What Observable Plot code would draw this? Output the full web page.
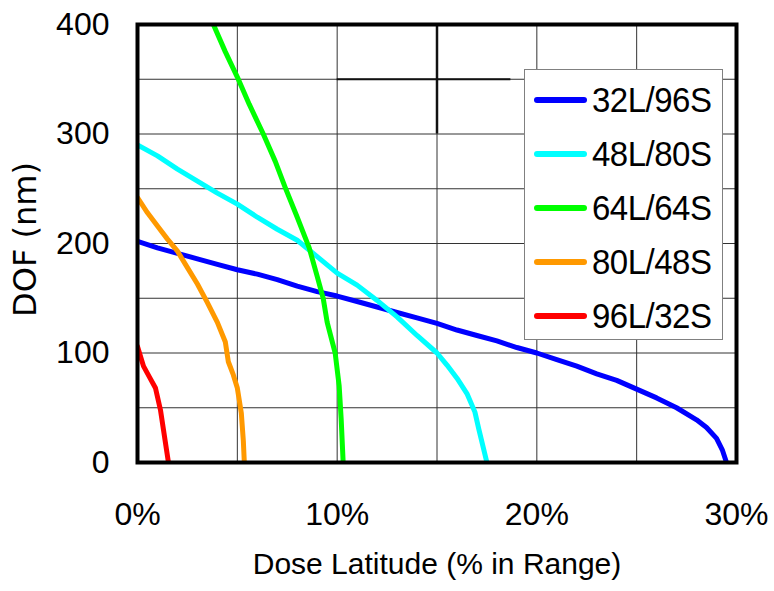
<!DOCTYPE html>
<html>
<head>
<meta charset="utf-8">
<script src="https://cdn.jsdelivr.net/npm/d3@7"></script>
<script src="https://cdn.jsdelivr.net/npm/@observablehq/plot@0.6"></script>
<style>
  html, body { margin: 0; padding: 0; background: #fff; }
  #wrap { position: relative; width: 774px; height: 591px; overflow: hidden; }
  #legend {
    position: absolute; left: 524px; top: 69px; width: 199px; height: 271px;
    background: #fff; border: 1px solid #808080; box-sizing: border-box;
    font-family: "Liberation Sans", Arial, sans-serif; font-size: 33px; color: #000;
    padding-top: 3px;
  }
  .row { position: relative; height: 54px; }
  .sw { position: absolute; left: 9px; top: 24px; width: 53px; height: 6px; border-radius: 3px; }
  .lb { position: absolute; left: 67px; top: 0; line-height: 54px; letter-spacing: -0.5px; transform: scaleY(1.08); }
</style>
</head>
<body>
<div id="wrap"></div>
<script>
// ---- data ----
const series = ["32L/96S", "48L/80S", "64L/64S", "80L/48S", "96L/32S"];
const colors = ["#0000ff", "#00ffff", "#00ff00", "#ff9900", "#ff0000"];

const s32x = [0, 1, 2, 3, 4, 5, 6, 7, 8, 9, 10, 11, 12, 13, 14, 15, 16, 17, 18, 19, 20, 21, 22, 23, 24, 25, 26, 27, 28, 28.5, 29, 29.3, 29.5];
const s32y = [202, 196, 191, 186, 181, 176, 172, 167, 161, 156, 152, 147, 142, 137, 132, 127, 121, 116, 111, 105, 100, 94, 88, 81, 75, 67, 59, 50, 39, 32, 22, 11, 0];

const s48x = [0, 1, 2, 3, 4, 5, 6, 7, 8, 9, 10, 11, 12, 13, 14, 15, 15.5, 16, 16.5, 16.9, 17.1, 17.3, 17.5];
const s48y = [290, 280, 268, 257, 246, 236, 224, 213, 203, 188, 173, 162, 148, 133, 116, 100, 89, 77, 63, 46, 30, 15, 0];

const s64x = [3.8, 4.4, 5, 5.6, 6.3, 6.9, 7.4, 8, 8.6, 9.0, 9.3, 9.5, 9.9, 10.1, 10.2, 10.3];
const s64y = [400, 375, 352, 327, 300, 275, 251, 224, 196, 170, 150, 128, 100, 70, 40, 0];

const s80x = [0, 0.5, 1, 1.5, 2, 2.5, 3, 3.5, 4, 4.4, 4.55, 4.8, 5, 5.2, 5.3, 5.35];
const s80y = [242, 228, 216, 204, 193, 178, 163, 146, 128, 110, 92, 80, 68, 45, 20, 0];

const s96x = [0, 0.3, 0.6, 0.9, 1.15, 1.3, 1.45, 1.55];
const s96y = [106, 88, 78, 68, 48, 30, 12, 0];

const xGrid = [0, 5, 10, 15, 20, 25, 30];
const yGrid = [0, 50, 100, 150, 200, 250, 300, 350, 400];
const xTicks = [0, 10, 20, 30];
const yTicks = [0, 100, 200, 300, 400];
const xTitle = "Dose Latitude (% in Range)";
const yTitle = "DOF (nm)";

// ---- build table ----
const xs = [s32x, s48x, s64x, s80x, s96x];
const ys = [s32y, s48y, s64y, s80y, s96y];
const rows = [];
series.forEach((s, i) => xs[i].forEach((x, j) => rows.push({series: s, x, y: ys[i][j]})));

const chart = Plot.plot({
  width: 774,
  height: 591,
  marginLeft: 137,
  marginRight: 38,
  marginTop: 24,
  marginBottom: 129,
  x: {domain: [0, 30]},
  y: {domain: [0, 400]},
  color: {domain: series, range: colors},
  style: {fontFamily: "'Liberation Sans', Arial, sans-serif", fontSize: "32px", color: "#000", background: "#fff"},
  marks: [
    Plot.ruleX(xGrid, {stroke: "#333", strokeWidth: 1}),
    Plot.ruleY(yGrid, {stroke: "#333", strokeWidth: 1}),
    Plot.ruleX([15], {y1: 300, y2: 400, stroke: "#111", strokeWidth: 2.5}),
    Plot.ruleY([350], {x1: 10, x2: 18.7, stroke: "#111", strokeWidth: 2}),
    Plot.line(rows, {x: "x", y: "y", z: "series", stroke: "series", strokeWidth: 5, strokeLinejoin: "round", clip: true}),
    Plot.frame({stroke: "#000", strokeWidth: 4}),
    Plot.axisX(xTicks, {tickSize: 0, tickPadding: 40, tickFormat: d => d + "%", fontSize: 32, label: null}),
    Plot.axisY(yTicks, {tickSize: 0, tickPadding: 28, tickFormat: d => String(d), fontSize: 32, label: null}),
    Plot.text([xTitle], {text: d => d, frameAnchor: "bottom", dy: 111, fontSize: 30}),
    Plot.text([yTitle], {text: d => d, frameAnchor: "left", textAnchor: "middle", dx: -112, dy: -4, rotate: -90, fontSize: 32, fontFamily: "'DejaVu Sans', Verdana, sans-serif"})
  ]
});

const wrap = document.getElementById("wrap");
wrap.appendChild(chart);

// legend
const legend = document.createElement("div");
legend.id = "legend";
series.forEach((s, i) => {
  const row = document.createElement("div");
  row.className = "row";
  const sw = document.createElement("div");
  sw.className = "sw";
  sw.style.background = colors[i];
  const lb = document.createElement("div");
  lb.className = "lb";
  lb.textContent = s;
  row.appendChild(sw);
  row.appendChild(lb);
  legend.appendChild(row);
});
wrap.appendChild(legend);
</script>
</body>
</html>
